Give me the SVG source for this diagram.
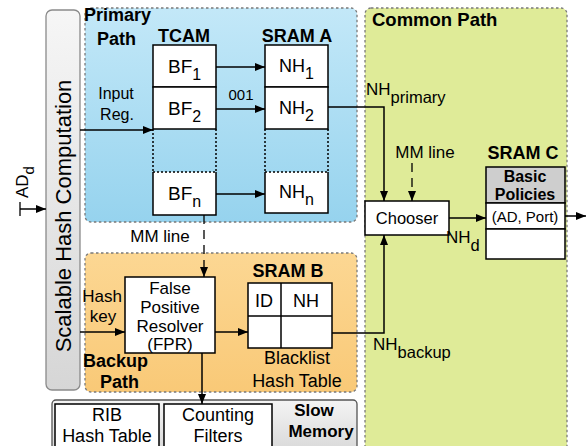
<svg xmlns="http://www.w3.org/2000/svg" width="588" height="446" viewBox="0 0 588 446">
<defs>
<linearGradient id="gBlue" x1="0" y1="0" x2="0" y2="1"><stop offset="0" stop-color="#c3e8f8"/><stop offset="1" stop-color="#96d3ee"/></linearGradient>
<linearGradient id="gOrange" x1="0" y1="0" x2="0" y2="1"><stop offset="0" stop-color="#fcd793"/><stop offset="1" stop-color="#f9c977"/></linearGradient>
<linearGradient id="gGray" x1="0" y1="0" x2="0" y2="1"><stop offset="0" stop-color="#f6f6f6"/><stop offset="1" stop-color="#d6d6d6"/></linearGradient>
<linearGradient id="gSlow" x1="0" y1="0" x2="0" y2="1"><stop offset="0" stop-color="#f4f4f4"/><stop offset="1" stop-color="#cfcfcf"/></linearGradient>
<marker id="ah" viewBox="0 0 10 8" refX="10" refY="4" markerWidth="10" markerHeight="8" markerUnits="userSpaceOnUse" orient="auto"><path d="M0,0 L10,4 L0,8 Z" fill="#000"/></marker>
</defs>
<style>
text{font-family:"Liberation Sans",Arial,Helvetica,sans-serif;fill:#000}
.b{font-weight:bold}
.region{stroke:#7a7a7a;stroke-width:1.3;stroke-dasharray:2.5,2.5}
.cell{fill:#fff;stroke:#000;stroke-width:1.5}
.dot{fill:none;stroke:#000;stroke-width:1.5;stroke-dasharray:2,2}
.wire{fill:none;stroke:#000;stroke-width:1.5}
.dash{fill:none;stroke:#000;stroke-width:1.3;stroke-dasharray:9,6}
.t16{font-size:16px}
.t17{font-size:17px}
.t18{font-size:18px}
.t19{font-size:19px}
</style>

<!-- regions -->
<g id="primary-path">
<rect x="85" y="8" width="272" height="214" rx="6" fill="url(#gBlue)" class="region"/>
<text x="84" y="21" class="b t18">Primary</text>
<text x="97" y="45" class="b t18">Path</text>
</g>
<g id="backup-path">
<rect x="85" y="253" width="272" height="139" rx="6" fill="url(#gOrange)" class="region"/>
<text x="83" y="367" class="b t18">Backup</text>
<text x="100" y="388" class="b t18">Path</text>
</g>
<g id="common-path">
<rect x="365" y="8" width="202" height="460" rx="6" fill="#dfeb98" class="region"/>
<text x="372" y="26" class="b" font-size="18.5">Common Path</text>
</g>

<g id="hash-computation">
<rect x="46" y="10" width="34" height="380" rx="6" fill="url(#gGray)" stroke="#8a8a8a" stroke-width="1.3"/>
<text transform="translate(71,216) rotate(-90)" text-anchor="middle" font-size="22">Scalable Hash Computation</text>
</g>

<g id="ad-input">
<text transform="translate(28,198) rotate(-90)" class="t17">AD<tspan font-size="15" dy="6">d</tspan></text>
<line x1="20" y1="202" x2="20" y2="216" stroke="#000" stroke-width="1.3"/>
</g>

<g id="tcam">
<text x="184" y="42" text-anchor="middle" class="b t18">TCAM</text>
<rect x="153" y="45" width="63" height="42" class="cell"/>
<rect x="153" y="87" width="63" height="42" class="cell"/>
<line x1="153" y1="129" x2="153" y2="172" class="dot"/>
<line x1="216" y1="129" x2="216" y2="172" class="dot"/>
<path d="M153,172 V215 H216 V172" class="wire" style="fill:#fff"/>
<line x1="153" y1="172" x2="216" y2="172" class="dot"/>
<text x="168" y="73" class="t19">BF<tspan font-size="16" dy="7">1</tspan></text>
<text x="168" y="115" class="t19">BF<tspan font-size="16" dy="7">2</tspan></text>
<text x="168" y="200" class="t19">BF<tspan font-size="16" dy="7">n</tspan></text>
</g>

<g id="sram-a">
<text x="297" y="42" text-anchor="middle" class="b t18">SRAM A</text>
<rect x="265" y="45" width="63" height="42" class="cell"/>
<rect x="265" y="87" width="63" height="42" class="cell"/>
<line x1="265" y1="129" x2="265" y2="172" class="dot"/>
<line x1="328" y1="129" x2="328" y2="172" class="dot"/>
<path d="M265,172 V213 H328 V172" class="wire" style="fill:#fff"/>
<line x1="265" y1="172" x2="328" y2="172" class="dot"/>
<text x="279" y="72" class="t18">NH<tspan font-size="16" dy="7">1</tspan></text>
<text x="279" y="114" class="t18">NH<tspan font-size="16" dy="7">2</tspan></text>
<text x="279" y="198" class="t18">NH<tspan font-size="16" dy="7">n</tspan></text>
</g>

<g id="fpr">
<rect x="125" y="277" width="90" height="76" class="cell"/>
<text x="170" y="294" text-anchor="middle" class="t17">False</text>
<text x="170" y="313" text-anchor="middle" class="t17">Positive</text>
<text x="170" y="332" text-anchor="middle" class="t17">Resolver</text>
<text x="170" y="350" text-anchor="middle" class="t17">(FPR)</text>
</g>

<g id="sram-b">
<text x="288" y="277" text-anchor="middle" class="b t18">SRAM B</text>
<rect x="248" y="283" width="84" height="65" class="cell"/>
<line x1="248" y1="316" x2="332" y2="316" class="wire"/>
<line x1="281" y1="283" x2="281" y2="348" class="wire"/>
<text x="264" y="307" text-anchor="middle" class="t18">ID</text>
<text x="306" y="307" text-anchor="middle" class="t18">NH</text>
<text x="297" y="364" text-anchor="middle" class="t18">Blacklist</text>
<text x="297" y="387" text-anchor="middle" class="t18">Hash Table</text>
</g>

<g id="chooser">
<rect x="365" y="201" width="84" height="34" class="cell"/>
<text x="407" y="224" text-anchor="middle" font-size="16.5">Chooser</text>
</g>

<g id="sram-c">
<text x="523" y="159" text-anchor="middle" class="b t18">SRAM C</text>
<rect x="486" y="167" width="79" height="36" fill="#cecece" stroke="#000" stroke-width="1.5"/>
<rect x="486" y="203" width="79" height="26" class="cell"/>
<rect x="486" y="229" width="79" height="30" class="cell"/>
<text x="525" y="182" text-anchor="middle" class="b t16">Basic</text>
<text x="525" y="200" text-anchor="middle" class="b t16">Policies</text>
<text x="525" y="222" text-anchor="middle" font-size="15">(AD, Port)</text>
</g>

<g id="slow-memory">
<rect x="52" y="400" width="305" height="70" rx="4" fill="url(#gSlow)" stroke="#555" stroke-width="1.3"/>
<text x="314" y="416" text-anchor="middle" class="b t17">Slow</text>
<text x="321" y="437" text-anchor="middle" class="b t17">Memory</text>
</g>
<g id="rib-hash-table">
<rect x="55" y="404" width="104" height="60" class="cell"/>
<text x="107" y="421" text-anchor="middle" class="t18">RIB</text>
<text x="107" y="442" text-anchor="middle" class="t18">Hash Table</text>
</g>
<g id="counting-filters">
<rect x="164" y="404" width="108" height="60" class="cell"/>
<text x="218" y="421" text-anchor="middle" class="t18">Counting</text>
<text x="218" y="442" text-anchor="middle" class="t18">Filters</text>
</g>

<g id="connectors">
<line x1="20" y1="209" x2="46" y2="209" class="wire" marker-end="url(#ah)"/>
<line x1="80" y1="130" x2="153" y2="130" class="wire" marker-end="url(#ah)"/>
<line x1="216" y1="67" x2="265" y2="67" class="wire" marker-end="url(#ah)"/>
<line x1="216" y1="109" x2="265" y2="109" class="wire" marker-end="url(#ah)"/>
<line x1="216" y1="194" x2="265" y2="194" class="wire" marker-end="url(#ah)"/>
<line x1="204" y1="215" x2="204" y2="277" class="dash" marker-end="url(#ah)"/>
<line x1="80" y1="332" x2="125" y2="332" class="wire" marker-end="url(#ah)"/>
<line x1="215" y1="332" x2="248" y2="332" class="wire" marker-end="url(#ah)"/>
<line x1="202" y1="353" x2="202" y2="404" class="wire" marker-end="url(#ah)"/>
<path d="M328,107 H384 V201" class="wire" marker-end="url(#ah)"/>
<path d="M332,333 H384 V235" class="wire" marker-end="url(#ah)"/>
<line x1="412" y1="163" x2="412" y2="201" class="dash" marker-end="url(#ah)"/>
<line x1="449" y1="218" x2="486" y2="218" class="wire" marker-end="url(#ah)"/>
<line x1="565" y1="216" x2="586" y2="216" class="wire" marker-end="url(#ah)"/>
<text x="116" y="99" text-anchor="middle" class="t16">Input</text>
<text x="117" y="120" text-anchor="middle" class="t16">Reg.</text>
<text x="241" y="100" text-anchor="middle" font-size="15">001</text>
<text x="160" y="242" text-anchor="middle" class="t17">MM line</text>
<text x="102" y="302" text-anchor="middle" class="t17">Hash</text>
<text x="103" y="322" text-anchor="middle" class="t17">key</text>
<text x="366" y="95" class="t17">NH<tspan font-size="16.5" dy="8">primary</tspan></text>
<text x="425" y="158" text-anchor="middle" class="t17">MM line</text>
<text x="446" y="243" class="t17">NH<tspan font-size="16.5" dy="8">d</tspan></text>
<text x="373" y="350" class="t17">NH<tspan font-size="16.5" dy="8">backup</tspan></text>
</g>
</svg>
